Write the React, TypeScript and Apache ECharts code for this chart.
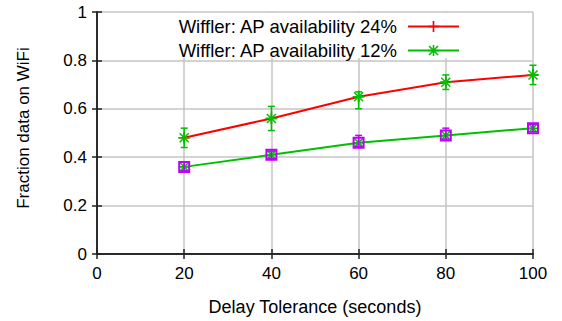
import React, { useEffect, useRef } from "react";
import * as echarts from "echarts";

const delays = [20, 40, 60, 80, 100];
const ap24 = [0.48, 0.56, 0.65, 0.71, 0.74];
const ap24Low = [0.44, 0.51, 0.6, 0.68, 0.7];
const ap24High = [0.52, 0.61, 0.67, 0.74, 0.78];
const ap12 = [0.36, 0.41, 0.46, 0.49, 0.52];
const ap12Low = [0.345, 0.395, 0.445, 0.475, 0.505];
const ap12High = [0.38, 0.425, 0.49, 0.52, 0.535];
const xTicks = [0, 20, 40, 60, 80, 100];
const yTicks = [0, 0.2, 0.4, 0.6, 0.8, 1];

const RED = "#ff0000";
const GREEN = "#00c000";
const PURPLE = "#c000ff";
const FONT = "Liberation Sans, Arial, sans-serif";

const PLUS = "path://M4.25,0h1.5v10h-1.5z M0,4.25h10v1.5h-10z";
const STAR =
  "path://M4.3,0h1.4v10h-1.4z M0,4.3h10v1.4h-10z M0.5,1.5L1.5,0.5L9.5,8.5L8.5,9.5z M8.5,0.5L9.5,1.5L1.5,9.5L0.5,8.5z";

function makeErr(color: string, marker: "star" | "square") {
  return (params: any, api: any) => {
    const x = api.value(0);
    const c = api.coord([x, api.value(1)]);
    const lo = api.coord([x, api.value(2)]);
    const hi = api.coord([x, api.value(3)]);
    const cap = 3.5;
    const st = { stroke: color, lineWidth: 1.5 };
    const children: any[] = [
      { type: "line", shape: { x1: lo[0], y1: lo[1], x2: hi[0], y2: hi[1] }, style: st },
      { type: "line", shape: { x1: lo[0] - cap, y1: lo[1], x2: lo[0] + cap, y2: lo[1] }, style: st },
      { type: "line", shape: { x1: hi[0] - cap, y1: hi[1], x2: hi[0] + cap, y2: hi[1] }, style: st },
    ];
    if (marker === "star") {
      const r = 6;
      const d = 4.5;
      children.push(
        { type: "line", shape: { x1: c[0] - r, y1: c[1], x2: c[0] + r, y2: c[1] }, style: st },
        { type: "line", shape: { x1: c[0], y1: c[1] - r, x2: c[0], y2: c[1] + r }, style: st },
        { type: "line", shape: { x1: c[0] - d, y1: c[1] - d, x2: c[0] + d, y2: c[1] + d }, style: st },
        { type: "line", shape: { x1: c[0] - d, y1: c[1] + d, x2: c[0] + d, y2: c[1] - d }, style: st }
      );
    } else {
      children.push({
        type: "rect",
        shape: { x: c[0] - 5, y: c[1] - 5, width: 10, height: 10 },
        style: { stroke: color, lineWidth: 2, fill: "none" },
      });
    }
    return { type: "group", children };
  };
}

export default function App() {
  const ref = useRef<HTMLDivElement>(null);
  useEffect(() => {
    if (!ref.current) return;
    const chart = echarts.init(ref.current, undefined, { renderer: "svg" });
    const axisLabel = { fontSize: 17, color: "#000", fontFamily: FONT };
    chart.setOption({
      animation: false,
      backgroundColor: "#fff",
      grid: { left: 97, top: 12, right: 29, bottom: 67 },
      graphic: [
        {
          type: "rect",
          z: 1,
          shape: { x: 98, y: 13, width: 433, height: 45 },
          style: { fill: "#fff" },
        },
      ],
      legend: {
        orient: "vertical",
        right: 102,
        top: 17,
        align: "right",
        padding: 0,
        itemWidth: 51,
        itemHeight: 14,
        itemGap: 5,
        z: 6,
        textStyle: { fontSize: 18.5, color: "#000", fontFamily: FONT, padding: [0, 6, 0, 0] },
        data: ["Wiffler: AP availability 24%", "Wiffler: AP availability 12%"],
      },
      xAxis: [
        {
          type: "value",
          min: 0,
          max: 100,
          interval: 20,
          name: "Delay Tolerance (seconds)",
          nameLocation: "middle",
          nameGap: 44,
          nameTextStyle: { fontSize: 18, color: "#000", fontFamily: FONT },
          axisLine: { show: true, lineStyle: { color: "#222", width: 1.5 } },
          axisTick: { show: true, inside: true, length: 5, lineStyle: { color: "#222", width: 1.5 } },
          axisLabel: { ...axisLabel, margin: 11, formatter: (v: number) => (xTicks.includes(v) ? String(v) : "") },
          splitLine: { show: true, lineStyle: { color: "#c4c4c4", width: 1.5 } },
        },
        {
          type: "value",
          position: "top",
          min: 0,
          max: 100,
          interval: 20,
          z: 5,
          axisLine: { show: true, lineStyle: { color: "#222", width: 1.5 } },
          axisTick: { show: true, inside: true, length: 5, lineStyle: { color: "#222", width: 1.5 } },
          axisLabel: { show: false },
          splitLine: { show: false },
        },
      ],
      yAxis: [
        {
          type: "value",
          min: 0,
          max: 1,
          interval: 0.2,
          name: "Fraction data on WiFi",
          nameLocation: "middle",
          nameGap: 65,
          nameTextStyle: { fontSize: 17, color: "#000", fontFamily: FONT, padding: [0, 0, 0, 10] },
          axisLine: { show: true, lineStyle: { color: "#222", width: 1.5 } },
          axisTick: { show: true, inside: true, length: 5, lineStyle: { color: "#222", width: 1.5 } },
          axisLabel: { ...axisLabel, margin: 10, formatter: (v: number) => (yTicks.some((t) => Math.abs(t - v) < 1e-9) ? String(+v.toFixed(1)) : "") },
          splitLine: { show: true, lineStyle: { color: "#c4c4c4", width: 1.5 } },
        },
        {
          type: "value",
          position: "right",
          min: 0,
          max: 1,
          interval: 0.2,
          z: 5,
          axisLine: { show: true, lineStyle: { color: "#222", width: 1.5 } },
          axisTick: { show: true, inside: true, length: 5, lineStyle: { color: "#222", width: 1.5 } },
          axisLabel: { show: false },
          splitLine: { show: false },
        },
      ],
      series: [
        {
          name: "Wiffler: AP availability 24%",
          type: "line",
          data: delays.map((d, i) => [d, ap24[i]]),
          symbol: PLUS,
          symbolSize: 10,
          itemStyle: { color: RED },
          lineStyle: { color: RED, width: 2 },
          z: 3,
        },
        {
          name: "err24",
          type: "custom",
          renderItem: makeErr(GREEN, "star"),
          data: delays.map((d, i) => [d, ap24[i], ap24Low[i], ap24High[i]]),
          z: 4,
        },
        {
          name: "Wiffler: AP availability 12%",
          type: "line",
          data: delays.map((d, i) => [d, ap12[i]]),
          symbol: STAR,
          symbolSize: 11,
          itemStyle: { color: GREEN },
          lineStyle: { color: GREEN, width: 2 },
          z: 3,
        },
        {
          name: "err12",
          type: "custom",
          renderItem: makeErr(PURPLE, "square"),
          data: delays.map((d, i) => [d, ap12[i], ap12Low[i], ap12High[i]]),
          z: 4,
        },
      ],
    });
    return () => chart.dispose();
  }, []);
  return <div ref={ref} style={{ position: "absolute", left: 0, top: 0, width: 562, height: 321 }} />;
}
